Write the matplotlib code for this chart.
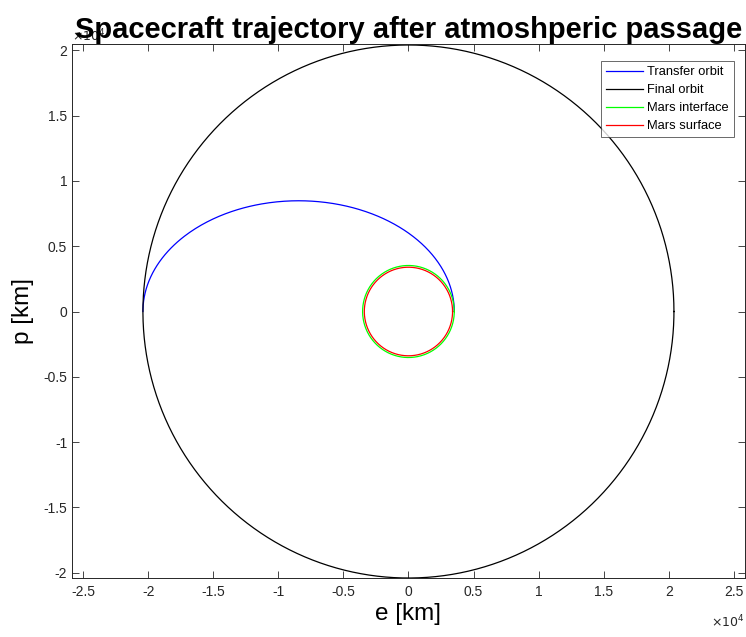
import numpy as np
import matplotlib
matplotlib.use("Agg")
import matplotlib.pyplot as plt
from matplotlib.ticker import FuncFormatter, MultipleLocator

# radii [km]
surface_radius = 3390
interface_radius = 3522
final_orbit_radius = 20400
# transfer orbit: periapsis at interface, apoapsis at final orbit
transfer_rp = 3522
transfer_ra = 20400

labels = ["Transfer orbit", "Final orbit", "Mars interface", "Mars surface"]
colors = ["#0000ff", "#000000", "#00ff00", "#ff0000"]

plt.rcParams["font.family"] = ["Liberation Sans", "DejaVu Sans"]
plt.rcParams["axes.unicode_minus"] = False

fig = plt.figure(figsize=(7.46, 6.37), dpi=100)
ax = fig.add_axes([0.0965, 0.0926, 0.902, 0.838])

# transfer half-ellipse (polar form from focus)
th = np.linspace(0, np.pi, 400)
a = (transfer_rp + transfer_ra) / 2
ecc = (transfer_ra - transfer_rp) / (transfer_ra + transfer_rp)
r = a * (1 - ecc**2) / (1 + ecc * np.cos(th))
ax.plot(r * np.cos(th), r * np.sin(th), color=colors[0], lw=0.9, label=labels[0])

phi = np.linspace(0, 2 * np.pi, 600)
for rad, c, lab in zip([final_orbit_radius, interface_radius, surface_radius],
                       colors[1:], labels[1:]):
    ax.plot(rad * np.cos(phi), rad * np.sin(phi), color=c, lw=0.9, label=lab)

ax.set_xlim(-25850, 25850)
ax.set_ylim(-20400, 20460)
ax.xaxis.set_major_locator(MultipleLocator(5000))
ax.yaxis.set_major_locator(MultipleLocator(5000))
fmt = FuncFormatter(lambda v, p: "%g" % (v / 1e4))
ax.xaxis.set_major_formatter(fmt)
ax.yaxis.set_major_formatter(fmt)
ax.tick_params(direction="in", length=5, width=0.6, top=True, right=True,
               labelsize=10, colors="#262626", labelcolor="#262626")
ax.tick_params(axis="x", pad=5)
for s in ax.spines.values():
    s.set_color("#262626")
    s.set_linewidth(0.7)

ax.text(1.0, -0.083, r"$\times10^{4}$", transform=ax.transAxes, ha="right",
        va="center", fontsize=9, color="#262626")
ax.text(0.0, 1.006, r"$\times10^{4}$", transform=ax.transAxes, ha="left",
        va="baseline", fontsize=9, color="#262626")

ax.set_xlabel("e [km]", fontsize=17.5, labelpad=3)
ax.set_ylabel("p [km]", fontsize=17.5, labelpad=7)
title = ax.set_title("Spacecraft trajectory after atmoshperic passage",
                     fontsize=21, fontweight="bold", pad=4.5)
title.set_zorder(5)

leg = ax.legend(loc="upper right", fontsize=9.3, frameon=True, fancybox=False,
                bbox_to_anchor=(0.984, 0.968), borderaxespad=0,
                handlelength=2.9, handletextpad=0.3, labelspacing=0.45,
                borderpad=0.4)
leg.get_frame().set_edgecolor("#262626")
leg.get_frame().set_linewidth(0.6)

fig.savefig("out.png", dpi=100)
